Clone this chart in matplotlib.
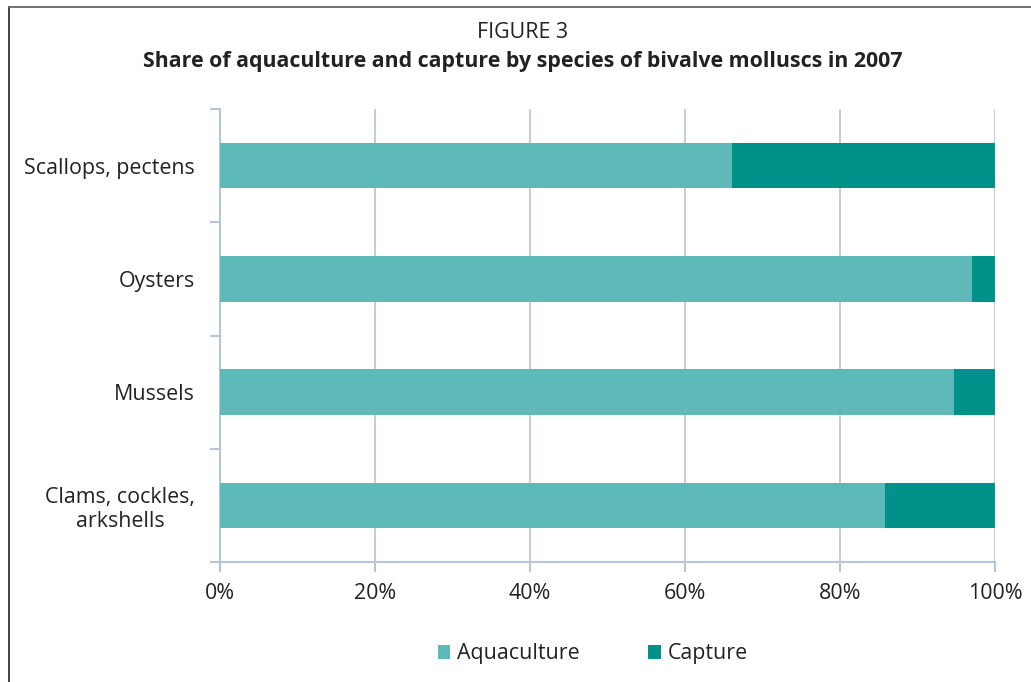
import matplotlib
matplotlib.use("Agg")
import matplotlib.pyplot as plt
from matplotlib.lines import Line2D
from matplotlib.patches import Patch
import numpy as np

categories = ["Scallops, pectens", "Oysters", "Mussels", "Clams, cockles,\narkshells"]
aquaculture = [66.1, 97.0, 94.7, 85.8]
capture = [33.9, 3.0, 5.3, 14.2]
xticks = [0, 20, 40, 60, 80, 100]
xticklabels = ["0%", "20%", "40%", "60%", "80%", "100%"]

plt.rcParams['font.family'] = ['Open Sans', 'DejaVu Sans']

c_aq = "#5eb9b9"
c_cap = "#00918b"
grid_c = "#b8c5d7"
txt_c = "#222222"
fs = 15.4

fig = plt.figure(figsize=(10.31, 6.82), dpi=100)
ax = fig.add_axes([220/1031, 1-562/682, (995-220)/1031, (562-109)/682])

y = np.arange(len(categories))
ax.barh(y, aquaculture, height=0.4, color=c_aq, zorder=3)
ax.barh(y, capture, left=aquaculture, height=0.4, color=c_cap, zorder=3)

ax.set_xlim(0, 100)
ax.set_ylim(len(categories)-0.5, -0.5)
ax.set_xticks(xticks)
ax.set_xticklabels(xticklabels, fontsize=fs, color=txt_c)
ax.set_yticks(y)
ax.set_yticklabels(categories, fontsize=fs, color=txt_c)
for lab in ax.get_yticklabels():
    lab.set_multialignment('center')
ax.set_yticks(np.arange(-0.5, len(categories)), minor=True)
ax.tick_params(axis='y', which='major', length=0, pad=18)
ax.tick_params(axis='y', which='minor', length=7, color=grid_c, width=1.5)
ax.tick_params(axis='x', length=7, color=grid_c, width=1.5, pad=8)
ax.grid(axis='x', color=grid_c, linewidth=1.2, zorder=0)
for s in ['top', 'right']:
    ax.spines[s].set_visible(False)
for s in ['left', 'bottom']:
    ax.spines[s].set_color(grid_c)
    ax.spines[s].set_linewidth(1.5)

fig.text(523/1031, 1-32/682, "FIGURE 3", ha='center', va='center', fontsize=fs, color=txt_c)
fig.text(523/1031, 1-61/682, "Share of aquaculture and capture by species of bivalve molluscs in 2007",
         ha='center', va='center', fontsize=fs, fontweight='bold', color=txt_c)

handles = [Patch(facecolor=c_aq, label="Aquaculture"), Patch(facecolor=c_cap, label="Capture")]
fig.legend(handles=handles, loc='center', bbox_to_anchor=(593/1031, 1-654/682), ncol=2,
           frameon=False, fontsize=fs, handlelength=0.58, handleheight=0.6,
           handletextpad=0.33, columnspacing=3.2, labelcolor=txt_c,
           borderpad=0, borderaxespad=0)

# figure border (left and top)
fig.add_artist(Line2D([9/1031, 9/1031], [0, 1-7/682], color="#333333", linewidth=1.3))
fig.add_artist(Line2D([9/1031, 1], [1-7/682, 1-7/682], color="#666666", linewidth=1.3))

fig.savefig("out.png", dpi=100)
